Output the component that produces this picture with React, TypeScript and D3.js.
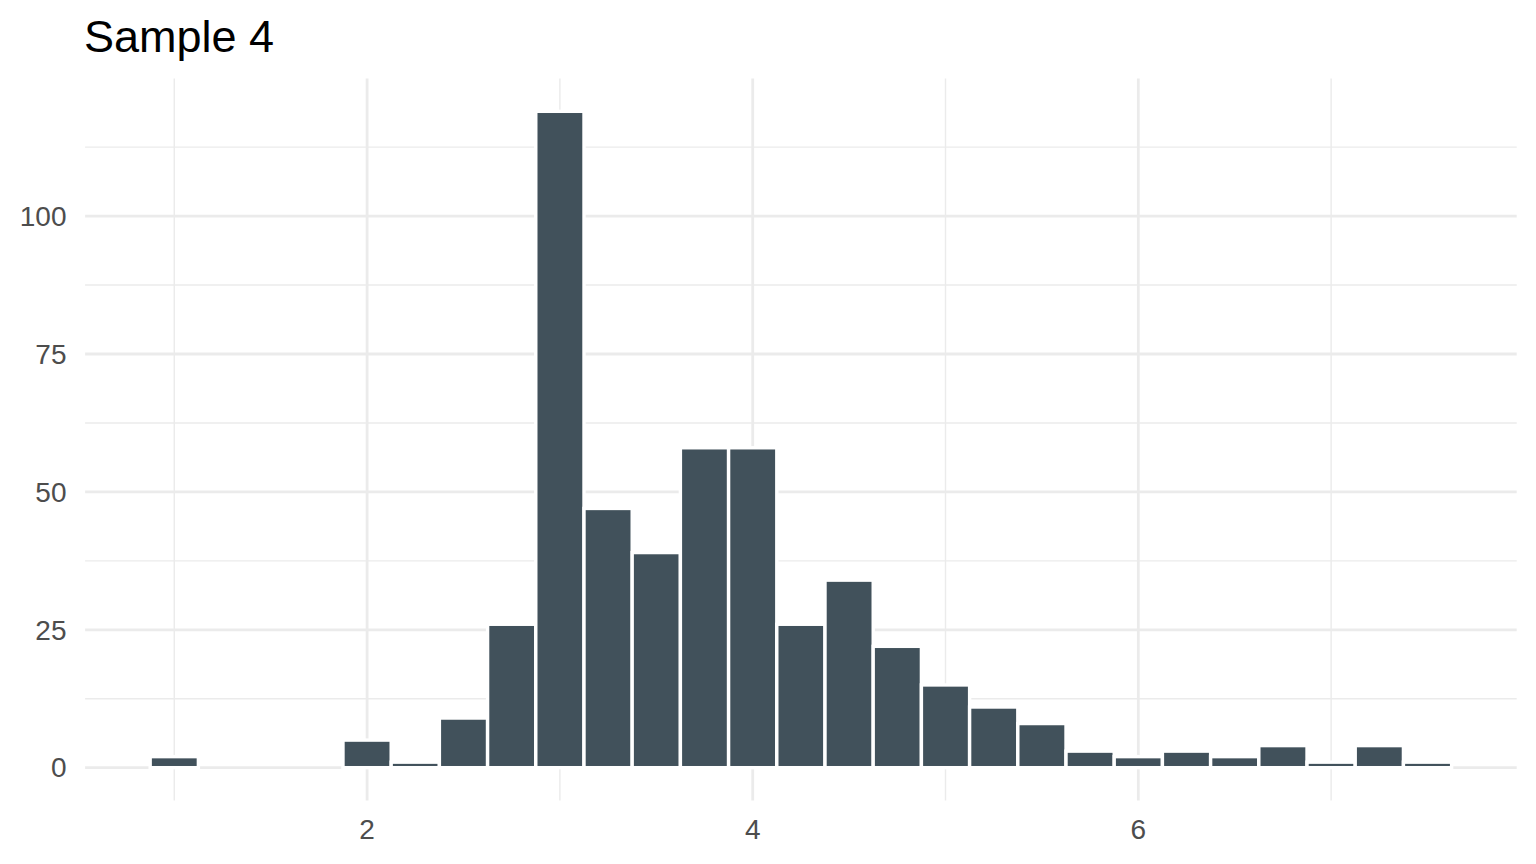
import * as d3 from 'd3';

const binCenters = [
  1.0, 1.25, 1.5, 1.75, 2.0, 2.25, 2.5, 2.75, 3.0, 3.25, 3.5, 3.75, 4.0, 4.25,
  4.5, 4.75, 5.0, 5.25, 5.5, 5.75, 6.0, 6.25, 6.5, 6.75, 7.0, 7.25, 7.5,
];
const counts = [
  2, 0, 0, 0, 5, 1, 9, 26, 119, 47, 39, 58, 58, 26,
  34, 22, 15, 11, 8, 3, 2, 3, 2, 4, 1, 4, 1,
];
const binWidth = 0.25;
const xTicks = [2, 4, 6];
const xMinor = [1, 3, 5, 7];
const yTicks = [0, 25, 50, 75, 100];
const yMinor = [12.5, 37.5, 62.5, 87.5, 112.5];
const title = 'Sample 4';

export default function App() {
  const width = 1536;
  const height = 864;
  const panel = { left: 85.1, right: 1516.7, top: 78.5, bottom: 800.5 };

  // ggplot-style 5% expansion
  const xMin = d3.min(binCenters)! - binWidth / 2;
  const xMax = d3.max(binCenters)! + binWidth / 2;
  const xPad = (xMax - xMin) * 0.05;
  const yMax = d3.max(counts)!;
  const yPad = yMax * 0.05;

  const x = d3.scaleLinear().domain([xMin - xPad, xMax + xPad]).range([panel.left, panel.right]);
  const y = d3.scaleLinear().domain([-yPad, yMax + yPad]).range([panel.bottom, panel.top]);

  const font = '"Liberation Sans", Arial, Helvetica, sans-serif';
  const grid = '#EBEBEB';

  return (
    <svg
      width={width}
      height={height}
      style={{ position: 'absolute', left: 0, top: 0, background: '#fff' }}
      fontFamily={font}
    >
      {/* minor grid */}
      {yMinor.map(v => (
        <line key={'ym' + v} x1={panel.left} x2={panel.right} y1={y(v)} y2={y(v)} stroke={grid} strokeWidth={1.4} />
      ))}
      {xMinor.map(v => (
        <line key={'xm' + v} x1={x(v)} x2={x(v)} y1={panel.top} y2={panel.bottom} stroke={grid} strokeWidth={1.4} />
      ))}
      {/* major grid */}
      {yTicks.map(v => (
        <line key={'yM' + v} x1={panel.left} x2={panel.right} y1={y(v)} y2={y(v)} stroke={grid} strokeWidth={2.8} />
      ))}
      {xTicks.map(v => (
        <line key={'xM' + v} x1={x(v)} x2={x(v)} y1={panel.top} y2={panel.bottom} stroke={grid} strokeWidth={2.8} />
      ))}

      {/* bars */}
      {binCenters.map((c, i) => {
        const x0 = x(c - binWidth / 2);
        const x1 = x(c + binWidth / 2);
        const top = y(counts[i]);
        return (
          <rect
            key={'b' + c}
            x={x0}
            y={top}
            width={x1 - x0}
            height={y(0) - top}
            fill="#41515B"
            stroke="#ffffff"
            strokeWidth={3.4}
          />
        );
      })}

      {/* axis labels */}
      {yTicks.map(v => (
        <text key={'yl' + v} x={66.5} y={y(v)} dy="0.35em" textAnchor="end" fontSize={28} fill="#4D4D4D">
          {v}
        </text>
      ))}
      {xTicks.map(v => (
        <text key={'xl' + v} x={x(v)} y={839} textAnchor="middle" fontSize={28} fill="#4D4D4D">
          {v}
        </text>
      ))}

      <text x={84} y={51.7} fontSize={45} fill="#000">
        {title}
      </text>
    </svg>
  );
}
